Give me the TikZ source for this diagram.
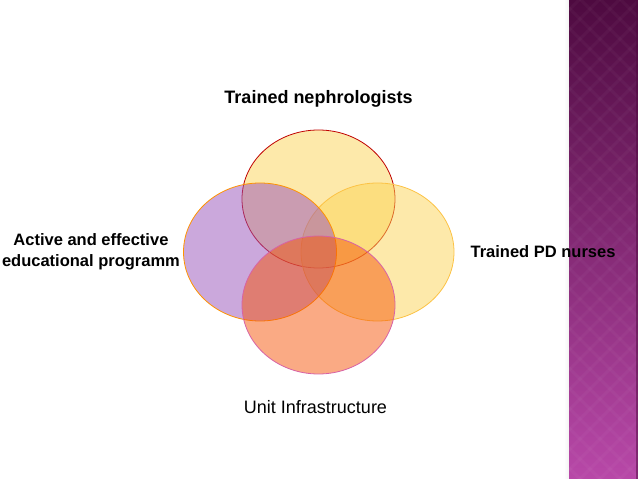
\documentclass[tikz,border=0pt]{standalone}
\usepackage{fontspec}
\setmainfont{Liberation Sans}
\usepackage{tikz}
\usetikzlibrary{positioning,shapes.geometric}

\definecolor{stripetop}{RGB}{78,10,64}
\definecolor{stripebot}{RGB}{184,72,168}
\definecolor{sunfill}{RGB}{251,211,85}
\definecolor{lilacfill}{RGB}{151,81,185}
\definecolor{orangefill}{RGB}{245,85,10}

\begin{document}
\begin{tikzpicture}[x=1pt, y=1pt,
    venn/.style={ellipse, minimum width=153pt, minimum height=138pt, inner sep=0pt, fill opacity=0.5, line width=0.8pt},
    nephro/.style={venn, fill=sunfill, draw=red!75!black},
    nurse/.style={venn, fill=sunfill, draw=sunfill!80!orange},
    edu/.style={venn, fill=lilacfill, draw=orange!85!yellow},
    unit/.style={venn, fill=orangefill, draw=magenta!60!violet!70},
    title/.style={font=\bfseries\fontsize{18}{22}\selectfont, inner sep=0pt},
    lbl/.style={font=\bfseries\fontsize{16.5}{21}\selectfont, align=center, inner sep=0pt},
    plain/.style={font=\fontsize{18}{22}\selectfont, inner sep=0pt},
]
\useasboundingbox (0,0) rectangle (638,479);

% Side stripe
\shade[left color=white, right color=black!5] (564,0) rectangle (569,479);
\shade[top color=stripetop, bottom color=stripebot] (569,0) rectangle (638,479);
\begin{scope}
\clip (569,0) rectangle (638,479);
\foreach \c in {60,80,...,660}
    \draw[white, opacity=0.03, line width=3pt] (569,569-\c) -- (638,638-\c);
\foreach \c in {560,580,...,1120}
    \draw[white, opacity=0.03, line width=3pt] (569,\c-569) -- (638,\c-638);
\end{scope}
\draw[stripetop, opacity=0.5, line width=1.5pt] (637,0) -- (637,479);

% Circles
\node[nephro] (neph) at (318.5,280) {};
\node[nurse] (nurse) at (377.5,227) {};
\node[edu] (edu) at (260,227) {};
\node[unit] (unit) at (318.5,174) {};

% Labels
\node[title, above=22pt of neph] (nephlbl) {Trained nephrologists};
\node[lbl, right=16pt of nurse] (nurselbl) {Trained PD nurses};
\node[lbl, left=3pt of edu] (edulbl) {Active and effective\\educational programm};
\node[plain, below=26pt of unit, xshift=-3pt] (unitlbl) {Unit Infrastructure};

\end{tikzpicture}
\end{document}
